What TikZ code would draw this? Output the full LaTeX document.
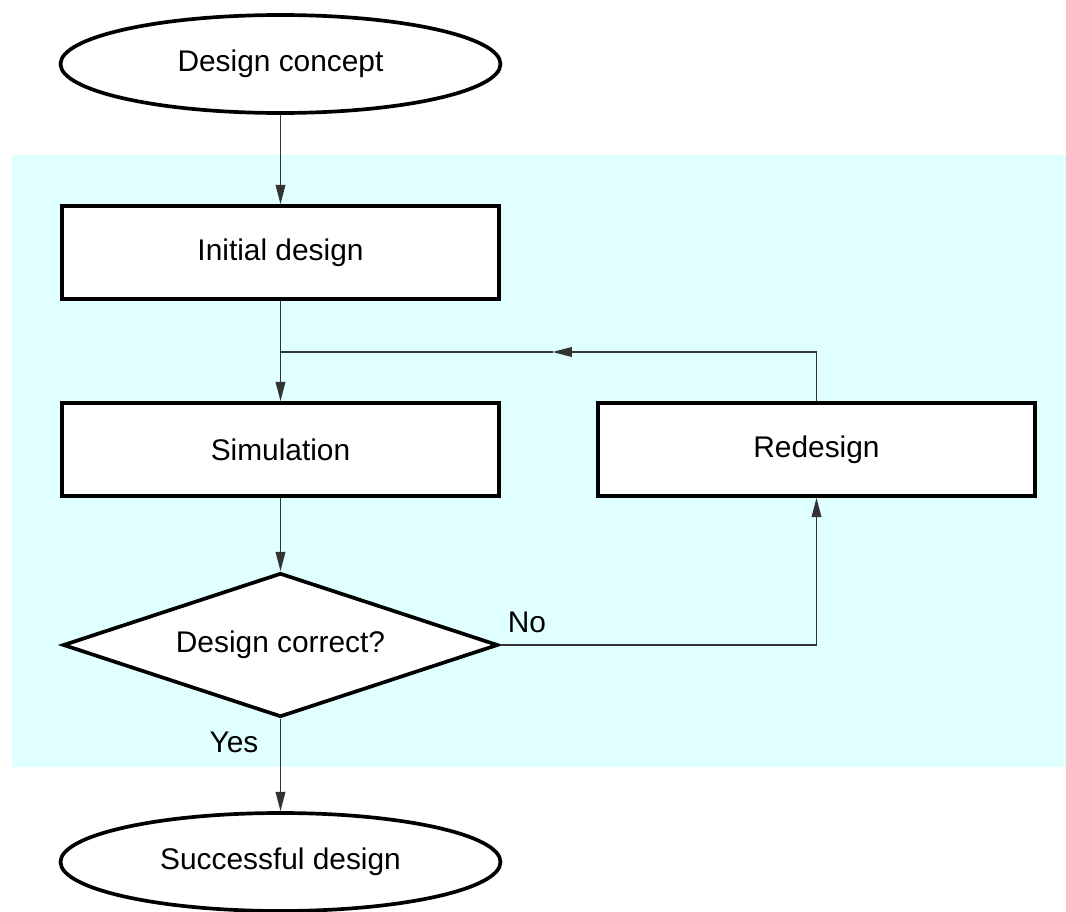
\documentclass[tikz,border=0pt]{standalone}
\usepackage{fontspec}
\setmainfont{Liberation Sans}
\usetikzlibrary{shapes.geometric,arrows.meta}
\definecolor{panelcyan}{HTML}{E0FFFF}
\definecolor{linegray}{HTML}{333333}
\tikzset{
  box/.style={draw,line width=2.1pt,fill=white,minimum width=8.74cm,minimum height=1.86cm},
  term/.style={draw,ellipse,line width=2.1pt,fill=white,minimum width=8.8cm,minimum height=1.96cm},
  decide/.style={draw,diamond,aspect=3.01,line width=2.1pt,fill=white,minimum width=8.7cm,minimum height=2.88cm,inner sep=0pt},
  link/.style={draw=linegray,line width=0.85pt},
  tip/.style={-{Triangle[length=11pt,width=5.5pt]}}
}
\begin{document}
\begin{tikzpicture}[font=\fontsize{17}{20}\selectfont]
      \useasboundingbox (0,0) rectangle (21.32,-18.24);
      \fill[panelcyan] (0.24,-3.1) rectangle (21.32,-15.34);
      \draw
        (5.61, -1.28) node[term] (concept){Design concept}
        (5.61, -5.05) node[box] (initial){Initial design}
        (5.61, -8.99) node[box] (sim){Simulation}
        (16.33, -8.99) node[box] (redesign){Redesign}
        (5.61, -12.9) node[decide] (check){Design correct?}
        (5.61, -17.24) node[term] (done){Successful design};
      \coordinate (join) at (5.61, -7.04);
      \coordinate (back) at (11.05, -7.04);
      \node (no) at (10.54, -12.44) {No};
      \node (yes) at (4.68, -14.84) {Yes};
      \begin{scope}[link]
        \draw[tip] (concept) to (initial);
        \draw[tip] (initial) to (sim);
        \draw[tip] (redesign.north) |- (back);
        \draw (back) to (join);
        \draw[tip] (sim) to (check);
        \draw[tip] (check.east) -| (redesign.south);
        \draw[tip] (check) to (done);
      \end{scope}
    \end{tikzpicture}
\end{document}
